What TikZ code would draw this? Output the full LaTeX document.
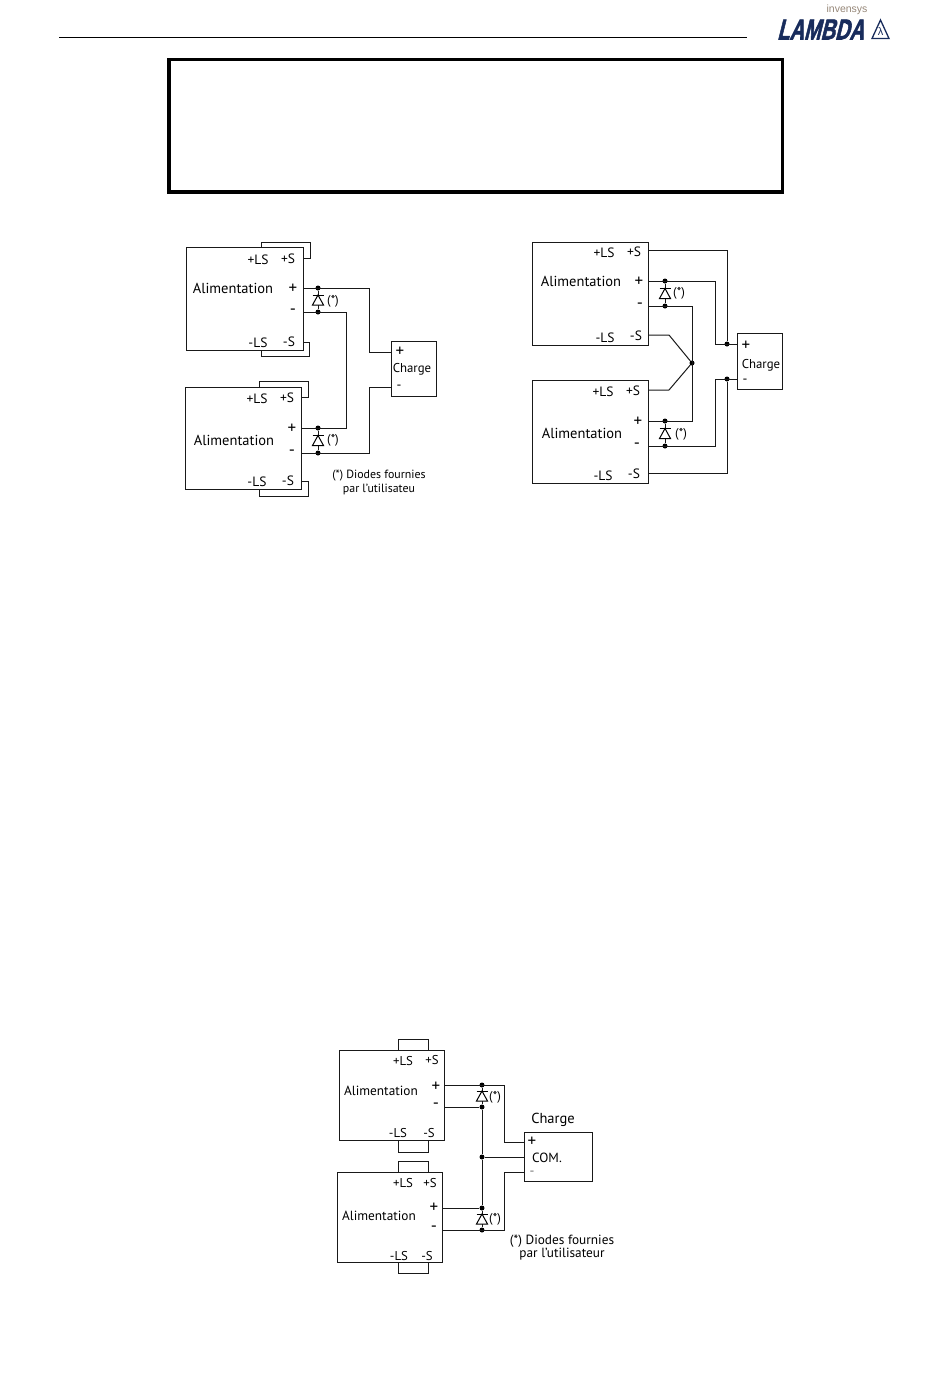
\documentclass[tikz,border=0pt]{standalone}
\usepackage{fontspec}
\setmainfont{PT Sans}
\newfontfamily\logoFont{Liberation Sans}
\newfontfamily\logoBoldFont[FakeBold=2.5]{Liberation Sans Bold}
\usetikzlibrary{positioning}
\definecolor{logoColor}{RGB}{24,44,92}
\definecolor{brandColor}{RGB}{150,135,120}
\tikzstyle{sheet} = [x = 1pt, y = -1pt]
\tikzstyle{wireLine} = [color=black!90, line width=1pt]
\tikzstyle{boxStyle} = [draw=black!90, line width=1pt, inner sep=0, outer sep=0]
\tikzstyle{dotStyle} = [circle, fill=black, inner sep=0, minimum size=5pt]
\tikzstyle{diodeStyle} = [color=black, line width=1pt, fill=white]
\tikzstyle{termText} = [font=\fontsize{13.5}{14}\selectfont, inner sep=0, yshift=-1pt]
\tikzstyle{signText} = [font=\fontsize{17}{18}\selectfont, inner sep=0]
\tikzstyle{chargeText} = [font=\fontsize{12.8}{13}\selectfont, inner sep=0, yshift=-1pt]
\tikzstyle{titleText} = [font=\fontsize{14.5}{15}\selectfont, inner sep=0]
\tikzstyle{lowerTitle} = [font=\fontsize{13.3}{14}\selectfont, inner sep=0, yshift=-1pt]
\tikzstyle{noteText} = [font=\fontsize{11.9}{12}\selectfont, inner sep=0, yshift=-1.5pt]
\newcommand{\rectBox}[5]{\node [boxStyle, minimum width=(#4-#2)*1pt, minimum height=(#5-#3)*1pt] (#1) at ({(#2+#4)/2}, {(#3+#5)/2}) {};}
\newcommand{\termLabel}[4]{\node [termText] (#1) at (#2, #3) {#4};}
\newcommand{\signLabel}[4]{\node [signText] (#1) at (#2, #3) {#4};}
\newcommand{\chargeLabel}[4]{\node [chargeText] (#1) at (#2, #3) {#4};}
\newcommand{\titleLabel}[4]{\node [titleText] (#1) at (#2, #3) {#4};}
\newcommand{\lowerLabel}[4]{\node [lowerTitle] (#1) at (#2, #3) {#4};}
\newcommand{\noteLabel}[4]{\node [noteText] (#1) at (#2, #3) {#4};}
\newcommand{\junction}[3]{\node [dotStyle] (#1) at (#2, #3) {};}
\newcommand{\diode}[3]{
  \draw [wireLine] (#1Top) -- (#1Bottom);
  \filldraw [diodeStyle] (#2 - 5.5, #3 + 5) -- (#2 + 5.5, #3 + 5) -- (#2, #3 - 5) -- cycle;
  \draw [diodeStyle] (#2 - 5.5, #3 - 5) -- (#2 + 5.5, #3 - 5);
}
\newcommand{\senseLoop}[7]{
  \coordinate (#1Start) at (#2, #3);
  \coordinate (#1Corner) at (#4, #5);
  \coordinate (#1End) at (#6, #7);
  \draw [wireLine] (#1Start) -| (#1Corner) -| (#1End);
}
\newcommand{\senseBridge}[5]{
  \coordinate (#1Start) at (#2, #4);
  \coordinate (#1Corner) at (#3, #5);
  \coordinate (#1End) at (#3, #4);
  \draw [wireLine] (#1Start) |- (#1Corner) -- (#1End);
}
\begin{document}
\begin{tikzpicture}[sheet]
  \useasboundingbox (0, 0) rectangle (950, 1379);

  % header
  \coordinate (ruleLeft) at (59, 37.5);
  \coordinate (ruleRight) at (747, 37.5);
  \draw [line width=1pt] (ruleLeft) -- (ruleRight);
  \node [font=\logoFont\fontsize{10.5}{11}\selectfont, color=brandColor, inner sep=0] (brandName) at (847, 10) {invensys};
  \node [font=\logoBoldFont\fontsize{25}{26}\selectfont, color=logoColor, inner sep=0, xslant=.25, xscale=.8, yscale=1.15, transform shape] (brandLogo) at (823, 29.5) {LAMBDA};
  \draw [color=logoColor, line width=1.3pt] (872, 38.5) -- (889, 38.5) -- (880.5, 20) -- cycle;
  \node [font=\logoFont\fontsize{11}{12}\selectfont, color=logoColor, inner sep=0] (brandLambda) at (880.5, 32) {λ};
  \rectBox{frameBox}{169}{59.5}{782.5}{192}
  \draw [line width=3.5pt] (frameBox.south west) rectangle (frameBox.north east);

  % left picture
  \rectBox{supplyA}{186}{247}{303}{350}
  \rectBox{supplyB}{185}{387}{301}{489}
  \rectBox{chargeA}{391}{341}{436}{396}
  \senseLoop{aTop}{303}{258}{310}{242}{261}{247}
  \senseLoop{aLow}{303}{342}{309}{356}{261}{350}
  \senseLoop{bTop}{301}{397}{308}{381}{259}{387}
  \senseLoop{bLow}{301}{481}{308}{496}{259}{489}
  \coordinate (aPlus) at (303, 288);
  \coordinate (aMinus) at (303, 312);
  \coordinate (bPlus) at (301, 428);
  \coordinate (bMinus) at (301, 453);
  \coordinate (chargeAPlus) at (391, 352);
  \coordinate (chargeAMinus) at (391, 387);
  \coordinate (aRise) at (346, 312);
  \coordinate (aDrop) at (369, 288);
  \coordinate (bRise) at (369, 453);
  \junction{aTopTop}{318}{288}
  \junction{aTopBottom}{318}{312}
  \junction{bTopTop}{318}{428}
  \junction{bTopBottom}{318}{453}
  \diode{aTop}{318}{300}
  \diode{bTop}{318}{440.5}
  \draw [wireLine] (aPlus) -- (aDrop) |- (chargeAPlus);
  \draw [wireLine] (aMinus) -- (aRise) |- (bPlus);
  \draw [wireLine] (bMinus) -- (bRise) |- (chargeAMinus);
  \termLabel{aLS}{258}{259}{+LS}
  \termLabel{aS}{288}{258}{+S}
  \titleLabel{aName}{233}{288}{Alimentation}
  \signLabel{aP}{293}{289}{+}
  \signLabel{aM}{293}{312}{-}
  \termLabel{aNLS}{258}{342}{-LS}
  \termLabel{aNS}{289}{341}{-S}
  \chargeLabel{aStar}{333}{300}{(*)}
  \termLabel{bLS}{257}{398}{+LS}
  \termLabel{bS}{287}{397}{+S}
  \titleLabel{bName}{234}{440}{Alimentation}
  \signLabel{bP}{292}{429}{+}
  \signLabel{bM}{292}{453}{-}
  \termLabel{bNLS}{257}{481}{-LS}
  \termLabel{bNS}{288}{480}{-S}
  \chargeLabel{bStar}{333}{439}{(*)}
  \noteLabel{noteA}{379}{474}{(*) Diodes fournies}
  \noteLabel{noteB}{379}{488}{par l'utilisateu}
  \signLabel{chargeAP}{400}{352}{+}
  \chargeLabel{chargeAName}{412}{368}{Charge}
  \termLabel{chargeAM}{399}{386}{-}

  % right picture
  \rectBox{supplyC}{532}{242}{648}{345}
  \rectBox{supplyD}{532}{380}{648}{483}
  \rectBox{chargeB}{737}{333}{782}{389}
  \coordinate (cSense) at (648, 250);
  \coordinate (cPlus) at (648, 281);
  \coordinate (cMinus) at (648, 306);
  \coordinate (cLow) at (648, 335);
  \coordinate (dSense) at (648, 390);
  \coordinate (dPlus) at (648, 421);
  \coordinate (dMinus) at (648, 446);
  \coordinate (dLow) at (648, 473);
  \coordinate (cBendA) at (669, 335);
  \coordinate (dBendA) at (669, 390);
  \coordinate (cTurn) at (727, 250);
  \coordinate (cDrop) at (715, 281);
  \coordinate (cBack) at (692, 306);
  \coordinate (dTurn) at (727, 473);
  \coordinate (dDrop) at (715, 446);
  \junction{cDiodeTop}{665}{281}
  \junction{cDiodeBottom}{665}{306}
  \junction{dDiodeTop}{665}{421}
  \junction{dDiodeBottom}{665}{446}
  \junction{midDot}{692}{363}
  \junction{chargeBTop}{727}{344}
  \junction{chargeBLow}{727}{379}
  \diode{cDiode}{665}{293.5}
  \diode{dDiode}{665}{433.5}
  \coordinate (chargeBPlus) at (737, 344);
  \coordinate (chargeBMinus) at (737, 379);
  \draw [wireLine] (cSense) -- (cTurn) -- (chargeBTop);
  \draw [wireLine] (cPlus) -- (cDrop) |- (chargeBPlus);
  \draw [wireLine] (cMinus) -- (cBack) |- (dPlus);
  \draw [wireLine] (cLow) -- (cBendA) -- (midDot) -- (dBendA) -- (dSense);
  \draw [wireLine] (dMinus) -- (dDrop) |- (chargeBMinus);
  \draw [wireLine] (dLow) -- (dTurn) -- (chargeBLow);
  \termLabel{cLS}{604}{252}{+LS}
  \termLabel{cS}{634}{251}{+S}
  \titleLabel{cName}{581}{281}{Alimentation}
  \signLabel{cP}{639}{282}{+}
  \signLabel{cM}{640}{306}{-}
  \termLabel{cNLS}{605}{337}{-LS}
  \termLabel{cNS}{636}{335}{-S}
  \chargeLabel{cStar}{679}{292}{(*)}
  \termLabel{dLS}{603}{391}{+LS}
  \termLabel{dS}{633}{390}{+S}
  \titleLabel{dName}{582}{433}{Alimentation}
  \signLabel{dP}{638}{422}{+}
  \signLabel{dM}{637}{446}{-}
  \termLabel{dNLS}{603}{475}{-LS}
  \termLabel{dNS}{634}{473}{-S}
  \chargeLabel{dStar}{681}{433}{(*)}
  \signLabel{chargeBP}{746}{346}{+}
  \chargeLabel{chargeBName}{761}{364.5}{Charge}
  \termLabel{chargeBM}{745}{380}{-}

  % lower picture
  \rectBox{supplyE}{339}{1050}{444}{1140}
  \rectBox{supplyF}{337}{1172}{442}{1262}
  \rectBox{chargeC}{524}{1132}{592}{1181}
  \senseBridge{eTop}{398}{428}{1050}{1039}
  \senseBridge{eLow}{398}{428}{1140}{1152}
  \senseBridge{fTop}{398}{428}{1172}{1161}
  \senseBridge{fLow}{398}{428}{1262}{1273}
  \coordinate (ePlus) at (444, 1085);
  \coordinate (eMinus) at (444, 1107);
  \coordinate (fPlus) at (442, 1208);
  \coordinate (fMinus) at (442, 1230);
  \coordinate (eTurn) at (504, 1085);
  \coordinate (fTurn) at (504, 1230);
  \coordinate (chargeCPlus) at (524, 1142);
  \coordinate (chargeCCom) at (524, 1157);
  \coordinate (chargeCMinus) at (524, 1172);
  \junction{eDiodeTop}{482}{1085}
  \junction{eDiodeBottom}{482}{1107}
  \junction{fDiodeTop}{482}{1208}
  \junction{fDiodeBottom}{482}{1230}
  \junction{comDot}{482}{1157}
  \draw [wireLine] (eDiodeBottom) -- (comDot) -- (fDiodeTop);
  \diode{eDiode}{482}{1096}
  \diode{fDiode}{482}{1219}
  \draw [wireLine] (ePlus) -- (eTurn) |- (chargeCPlus);
  \draw [wireLine] (eMinus) -- (eDiodeBottom);
  \draw [wireLine] (fPlus) -- (fDiodeTop);
  \draw [wireLine] (fMinus) -- (fTurn) |- (chargeCMinus);
  \draw [wireLine] (comDot) -- (chargeCCom);
  \chargeLabel{eLS}{403}{1060}{+LS}
  \chargeLabel{eS}{432}{1059}{+S}
  \lowerLabel{eName}{381}{1090}{Alimentation}
  \signLabel{eP}{436}{1087}{+}
  \signLabel{eM}{436}{1106}{-}
  \chargeLabel{eNLS}{398}{1132}{-LS}
  \chargeLabel{eNS}{429}{1132}{-S}
  \chargeLabel{eStar}{495}{1096}{(*)}
  \chargeLabel{fLS}{403}{1182}{+LS}
  \chargeLabel{fS}{430}{1182}{+S}
  \lowerLabel{fName}{379}{1215}{Alimentation}
  \signLabel{fP}{434}{1208}{+}
  \signLabel{fM}{434}{1229}{-}
  \chargeLabel{fNLS}{399}{1255}{-LS}
  \chargeLabel{fNS}{427}{1255}{-S}
  \chargeLabel{fStar}{495}{1218}{(*)}
  \titleLabel{chargeCName}{553}{1120}{Charge}
  \signLabel{chargeCP}{532}{1142}{+}
  \lowerLabel{chargeCC}{547}{1157}{COM.}
  \node [termText, color=black!55] (chargeCM) at (532, 1172) {-};
  \lowerLabel{noteC}{562}{1240}{(*) Diodes fournies}
  \lowerLabel{noteD}{562}{1253}{par l'utilisateur}
\end{tikzpicture}
\end{document}
